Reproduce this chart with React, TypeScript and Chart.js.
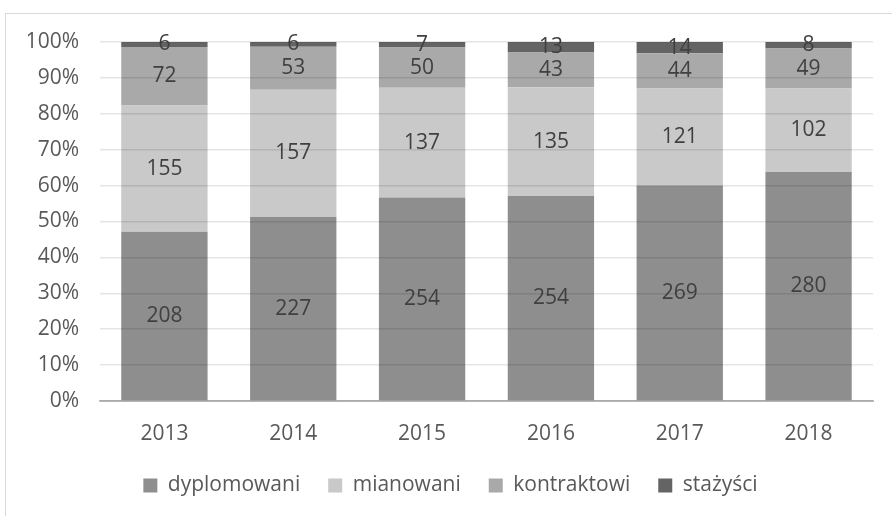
import React, { useEffect, useRef } from "react";
import { Chart, registerables } from "chart.js";

Chart.register(...registerables);

const categories = ["2013", "2014", "2015", "2016", "2017", "2018"];
const dyplomowani = [208, 227, 254, 254, 269, 280];
const mianowani = [155, 157, 137, 135, 121, 102];
const kontraktowi = [72, 53, 50, 43, 44, 49];
const stazysci = [6, 6, 7, 13, 14, 8];
const seriesNames = ["dyplomowani", "mianowani", "kontraktowi", "stażyści"];
const seriesColors = ["#8e8e8e", "#c9c9c9", "#a9a9a9", "#646464"];
const yTicks = [0, 10, 20, 30, 40, 50, 60, 70, 80, 90, 100];

const FONT = "'Open Sans', sans-serif";
const FS = 21;

export default function App() {
  const ref = useRef<HTMLCanvasElement | null>(null);

  useEffect(() => {
    if (!ref.current) return;
    const raw = [dyplomowani, mianowani, kontraktowi, stazysci];
    const totals = categories.map((_, i) => raw.reduce((s, arr) => s + arr[i], 0));
    const datasets = raw.map((arr, k) => ({
      label: seriesNames[k],
      data: arr.map((v, i) => (v / totals[i]) * 100),
      rawValues: arr,
      backgroundColor: seriesColors[k],
      borderWidth: 0,
      barPercentage: 0.67,
      categoryPercentage: 1,
    }));

    const labelPlugin = {
      id: "segLabels",
      afterDatasetsDraw(chart: any) {
        const ctx = chart.ctx;
        ctx.save();
        ctx.font = `${FS}px ${FONT}`;
        ctx.fillStyle = "#404040";
        ctx.textAlign = "center";
        ctx.textBaseline = "middle";
        chart.data.datasets.forEach((ds: any, di: number) => {
          const meta = chart.getDatasetMeta(di);
          meta.data.forEach((el: any, i: number) => {
            const y = (el.y + el.base) / 2;
            ctx.fillText(String(ds.rawValues[i]), el.x, y);
          });
        });
        ctx.restore();
      },
    };

    const chart = new Chart(ref.current, {
      type: "bar",
      data: { labels: categories, datasets: datasets as any },
      options: {
        animation: false,
        responsive: false,
        maintainAspectRatio: false,
        layout: { padding: { left: 28, right: 19, top: 42, bottom: 10 } },
        plugins: {
          tooltip: { enabled: false },
          legend: {
            position: "bottom",
            labels: {
              font: { family: FONT, size: FS },
              color: "#595959",
              boxWidth: 14,
              boxHeight: 14,
              padding: 28,
            },
          },
        },
        scales: {
          x: {
            stacked: true,
            grid: { display: false, drawTicks: false },
            border: { display: true, color: "#bfbfbf", width: 2 },
            ticks: { font: { family: FONT, size: FS }, color: "#595959", padding: 20 },
            afterFit(scale: any) {
              scale.height = 46;
            },
          },
          y: {
            stacked: true,
            min: 0,
            max: 100,
            afterBuildTicks(scale: any) {
              scale.ticks = yTicks.map((v) => ({ value: v }));
            },
            grid: { color: "rgba(0,0,0,0.1)", lineWidth: 1.5, drawTicks: false, z: 1 },
            border: { display: false },
            ticks: {
              font: { family: FONT, size: FS },
              color: "#595959",
              padding: 21,
              callback: (v: any) => `${v}%`,
            },
            afterFit(scale: any) {
              scale.width = 72;
            },
          },
        },
      } as any,
      plugins: [labelPlugin],
    });
    return () => chart.destroy();
  }, []);

  return (
    <div>
      <div
        style={{
          position: "fixed",
          left: 5,
          top: 13,
          width: 900,
          height: 520,
          border: "1px solid #d9d9d9",
          boxSizing: "border-box",
        }}
      />
      <canvas
        ref={ref}
        width={892}
        height={516}
        style={{ position: "fixed", left: 0, top: 0, width: 892, height: 516 }}
      />
    </div>
  );
}
